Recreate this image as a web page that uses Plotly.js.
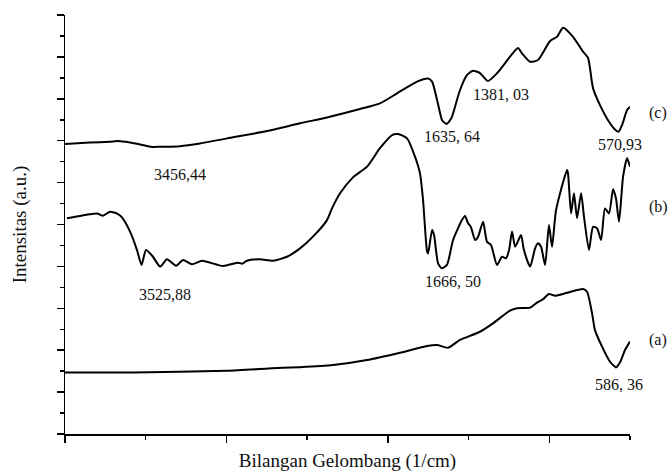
<!DOCTYPE html>
<html>
<head>
<meta charset="utf-8">
<script src="https://cdn.plot.ly/plotly-3.0.1.min.js"></script>
<style>
  html, body { margin: 0; padding: 0; background: #fff; }
  #chart { width: 668px; height: 472px; }
</style>
</head>
<body>
<div id="chart"></div>
<script>
// FTIR spectra, wavenumber (1/cm) against intensity (a.u.), three samples offset vertically.

// Sample (a)
const waveA = [4000, 3579, 2996, 2650, 2544, 2340, 2129, 1925, 1757, 1696, 1627, 1553, 1429, 1349,
  1243, 1200, 1119, 1076, 1039, 1002, 964, 890, 791, 766, 735, 717, 673, 624, 600, 586.36, 560, 531, 500];
const intensA = [2.93, 2.93, 3.02, 3.16, 3.19, 3.29, 3.53, 3.88, 4.20, 4.25, 4.12, 4.49, 4.88, 5.28,
  5.89, 6.00, 6.03, 6.27, 6.43, 6.68, 6.60, 6.74, 6.92, 6.79, 5.76, 4.96, 4.17, 3.45, 3.26, 3.18, 3.45, 4.01, 4.41];

// Sample (b)
const waveB = [3988, 3907, 3802, 3765, 3721, 3672, 3647, 3597, 3554, 3525.88, 3498, 3455, 3411, 3368,
  3312, 3269, 3213, 3151, 3021, 2928, 2903, 2873, 2792, 2711, 2625, 2544, 2464, 2377, 2346, 2296,
  2216, 2129, 2049, 1974, 1937, 1881, 1832, 1801, 1782, 1757, 1751, 1726, 1714, 1689, 1666.5, 1634,
  1596, 1541, 1522, 1503, 1485, 1460, 1441, 1410, 1386, 1361, 1324, 1293, 1268, 1249, 1231, 1212,
  1200, 1175, 1157, 1119, 1088, 1070, 1051, 1026, 1002, 983, 958, 890, 884, 865, 847, 828, 803,
  785, 754, 729, 704, 679, 655, 630, 605, 587, 568, 543, 518, 500];
const intensB = [10.30, 10.41, 10.53, 10.42, 10.61, 10.50, 10.34, 9.66, 8.78, 8.07, 8.78, 8.46, 7.99, 8.34,
  8.03, 8.31, 8.10, 8.27, 8.02, 8.18, 8.13, 8.27, 8.34, 8.27, 8.46, 8.86, 9.42, 10.21, 10.77, 11.49,
  12.25, 12.76, 13.64, 14.27, 14.32, 14.11, 13.24, 12.44, 11.17, 8.70, 8.62, 9.74, 9.50, 8.15, 7.91, 8.07,
  9.26, 10.21, 10.41, 10.06, 9.87, 9.26, 9.42, 10.13, 9.18, 9.02, 8.07, 8.46, 8.39, 8.78, 9.66, 8.94,
  9.10, 9.50, 8.78, 7.99, 8.86, 9.10, 8.94, 8.07, 9.98, 8.94, 10.69, 12.60, 12.44, 10.53, 11.49, 10.30, 11.49,
  10.37, 8.78, 9.89, 9.82, 9.26, 10.77, 10.53, 11.68, 11.25, 10.13, 12.28, 13.16, 12.76];

// Sample (c)
const waveC = [4000, 3845, 3721, 3672, 3597, 3504, 3456.44, 3411, 3288, 3164, 2959, 2749, 2544, 2377,
  2173, 2049, 1943, 1819, 1751, 1726, 1695, 1665, 1652, 1635.64, 1622, 1603, 1553, 1510, 1473, 1429,
  1381.03, 1324, 1243, 1194, 1169, 1119, 1070, 995, 952, 915, 853, 791, 760, 729, 686, 624, 595,
  570.93, 549, 518, 500];
const intensC = [13.84, 13.91, 13.95, 13.98, 13.91, 13.77, 13.70, 13.71, 13.74, 13.87, 14.16, 14.46, 14.83, 15.11,
  15.51, 15.78, 16.26, 16.82, 16.97, 16.82, 15.94, 14.99, 14.88, 14.80, 14.90, 15.14, 16.42, 17.13, 17.34, 17.23,
  16.85, 17.22, 18.01, 18.42, 18.17, 17.77, 17.85, 18.76, 18.96, 19.39, 18.96, 18.25, 17.95, 16.51, 15.70, 14.83, 14.55,
  14.43, 14.75, 15.46, 15.62];

// Peak labels
const peakText = ['3456,44', '3525,88', '1635, 64', '1381, 03', '570,93', '1666, 50', '586, 36'];
const peakWave = [3288, 3381, 1603, 1299, 562, 1596, 568];
const peakLevel = [12.41, 6.68, 14.22, 16.21, 13.83, 7.27, 2.34];

// Sample names at the right edge
const sampleNames = ['(c)', '(b)', '(a)'];
const sampleLevel = [15.30, 10.85, 4.48];

const lineStyle = { color: '#000', width: 2, shape: 'spline', smoothing: 0.6 };
const serif = 'Liberation Serif, Times New Roman, serif';

const traces = [
  { x: waveA, y: intensA, name: '(a)' },
  { x: waveB, y: intensB, name: '(b)' },
  { x: waveC, y: intensC, name: '(c)' }
].map(t => Object.assign(t, { type: 'scatter', mode: 'lines', line: lineStyle, showlegend: false }));

const annotations = peakText.map((t, i) => ({
  text: t, x: peakWave[i], y: peakLevel[i], xref: 'x', yref: 'y',
  showarrow: false, xanchor: 'center', yanchor: 'middle',
  font: { family: serif, size: 16, color: '#111' }
})).concat(sampleNames.map((t, i) => ({
  text: t, x: 1.03, y: sampleLevel[i], xref: 'paper', yref: 'y',
  showarrow: false, xanchor: 'left', yanchor: 'middle',
  font: { family: serif, size: 16, color: '#111' }
})));

const layout = {
  width: 668, height: 472,
  margin: { l: 65, r: 38, t: 15, b: 38 },
  paper_bgcolor: '#fff', plot_bgcolor: '#fff',
  font: { family: serif, color: '#111' },
  showlegend: false,
  xaxis: {
    range: [4000, 500], autorange: false,
    showgrid: false, zeroline: false,
    showline: true, linecolor: '#000', linewidth: 1.5,
    ticks: 'outside', ticklen: 7, tickwidth: 1.5, tickcolor: '#000',
    tick0: 0, dtick: 1000, showticklabels: false,
    minor: { ticks: 'outside', ticklen: 4, tickwidth: 1.5, tickcolor: '#000', dtick: 500, tick0: 0, showgrid: false },
    title: { text: 'Bilangan Gelombang (1/cm)', font: { family: serif, size: 19, color: '#111' }, standoff: 14 }
  },
  yaxis: {
    range: [0, 20], autorange: false,
    showgrid: false, zeroline: false,
    showline: true, linecolor: '#000', linewidth: 1.5,
    ticks: 'outside', ticklen: 7, tickwidth: 1.5, tickcolor: '#000',
    tick0: 0, dtick: 2, showticklabels: false,
    minor: { ticks: 'outside', ticklen: 4, tickwidth: 1.5, tickcolor: '#000', dtick: 1, tick0: 0, showgrid: false },
    title: { text: 'Intensitas (a.u.)', font: { family: serif, size: 19, color: '#111' }, standoff: 25 }
  },
  annotations: annotations
};

Plotly.newPlot('chart', traces, layout, { staticPlot: true, displayModeBar: false });
</script>
</body>
</html>
